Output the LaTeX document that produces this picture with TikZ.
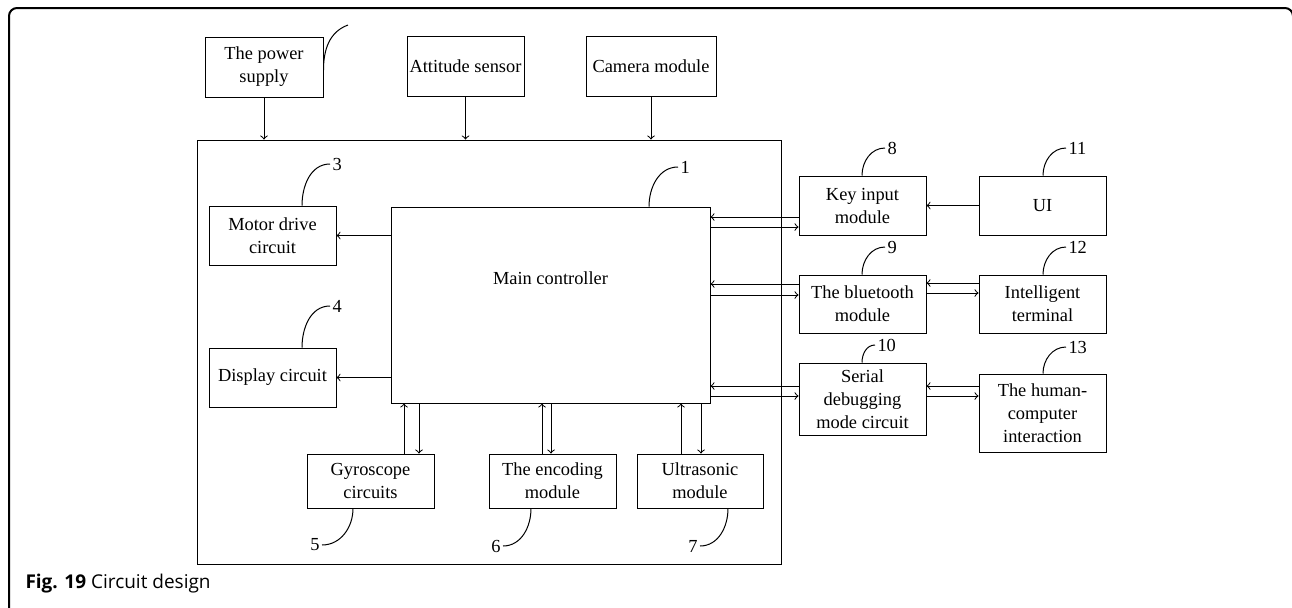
\documentclass[tikz,border=0pt]{standalone}
\usepackage{fontspec}
\setmainfont{Liberation Serif}
\newfontfamily\capfont{Open Sans}

\tikzset{
	blk/.style={draw, align=center, inner sep=0pt, minimum width=63.5pt, minimum height=29.5pt},
	num/.style={anchor=west, inner sep=1pt},
	frm/.style={draw, line width=1pt, rounded corners=4pt}
}

\begin{document}
\begin{tikzpicture}[x=0.5pt,y=-0.5pt,line width=0.5pt,font=\fontsize{9.2}{11.5}\selectfont]
	\useasboundingbox (0,0) rectangle (1292,607);
	\clip (0,0) rectangle (1292,607);
	\draw[frm] (9,640) -- (9,8) -- (1293,8) -- (1293,640);
	% inputs on top
	\node[blk, minimum width=59pt, minimum height=30pt] (pow) at (264,67) {The power\\supply};
	\node[blk, minimum width=58.5pt, minimum height=30pt] (att) at (465.5,66) {Attitude sensor};
	\node[blk, minimum width=65pt, minimum height=30pt] (cam) at (651,66) {Camera module};
	% board
	\node[draw, minimum width=292pt, minimum height=212pt] (frame) at (489,352) {};
	\node[draw, minimum width=159.5pt, minimum height=98pt] (main) at (550.5,305) {};
	\node (maintxt) at (550.5,278) {Main controller};
	\node[blk] (mot) at (272.5,235.5) {Motor drive\\circuit};
	\node[blk] (dis) at (272.5,377.5) {Display circuit};
	\node[blk, minimum height=27pt] (gyr) at (370.5,481) {Gyroscope\\circuits};
	\node[blk, minimum height=27pt] (enc) at (552.5,481) {The encoding\\module};
	\node[blk, minimum width=63pt, minimum height=27pt] (ult) at (700,481) {Ultrasonic\\module};
	% right column
	\node[blk] (key) at (862.5,205.5) {Key input\\module};
	\node[blk] (ui) at (1042.5,205.5) {UI};
	\node[blk, minimum height=29pt] (blu) at (862.5,304) {The bluetooth\\module};
	\node[blk, minimum height=29pt] (int) at (1042.5,304) {Intelligent\\terminal};
	\node[blk, minimum height=36pt] (ser) at (862.5,399) {Serial\\debugging\\mode circuit};
	\node[blk, minimum height=39pt] (hum) at (1042.5,413) {The human-\\computer\\interaction};

	\draw[->] (pow.south) -- (pow.south |- frame.north);
	\draw[->] (att.south) -- (att.south |- frame.north);
	\draw[->] (cam.south) -- (cam.south |- frame.north);
	\draw[->] (main.west |- mot.east) -- (mot.east);
	\draw[->] (main.west |- dis.east) -- (dis.east);
	\draw[->] (gyr.north -| 404,0) -- (main.south -| 404,0);
	\draw[->] (main.south -| 419,0) -- (gyr.north -| 419,0);
	\draw[->] (enc.north -| 542,0) -- (main.south -| 542,0);
	\draw[->] (main.south -| 551,0) -- (enc.north -| 551,0);
	\draw[->] (ult.north -| 681,0) -- (main.south -| 681,0);
	\draw[->] (main.south -| 701,0) -- (ult.north -| 701,0);
	\draw[->] (key.west |- 0,217) -- (main.east |- 0,217);
	\draw[->] (main.east |- 0,227) -- (key.west |- 0,227);
	\draw[->] (ui.west) -- (key.east);
	\draw[->] (blu.west |- 0,284) -- (main.east |- 0,284);
	\draw[->] (main.east |- 0,295) -- (blu.west |- 0,295);
	\draw[->] (int.west |- 0,283) -- (blu.east |- 0,283);
	\draw[->] (blu.east |- 0,293) -- (int.west |- 0,293);
	\draw[->] (ser.west |- 0,386) -- (main.east |- 0,386);
	\draw[->] (main.east |- 0,396) -- (ser.west |- 0,396);
	\draw[->] (hum.west |- 0,386) -- (ser.east |- 0,386);
	\draw[->] (ser.east |- 0,396) -- (hum.west |- 0,396);

	% reference numbers
	\coordinate (pwend) at (348,25);
	\draw (pow.east |- 0,70) to[out=90,in=200] (pwend);
	\node[num] (n1) at (678,167) {1};
	\draw (main.north -| 649,0) to[out=90,in=180] (n1.west);
	\node[num] (n3) at (330,164) {3};
	\draw (mot.north -| 302,0) to[out=90,in=180] (n3.west);
	\node[num] (n4) at (330,306) {4};
	\draw (dis.north -| 302,0) to[out=90,in=180] (n4.west);
	\node[num, anchor=east] (n5) at (322,545) {5};
	\draw (gyr.south -| 353,0) to[out=-90,in=0] (n5.east);
	\node[num, anchor=east] (n6) at (503,546) {6};
	\draw (enc.south -| 531,0) to[out=-90,in=0] (n6.east);
	\node[num, anchor=east] (n7) at (700,546) {7};
	\draw (ult.south -| 728,0) to[out=-90,in=0] (n7.east);
	\node[num] (n8) at (885,148) {8};
	\draw (key.north -| 862,0) to[out=90,in=180] (n8.west);
	\node[num] (n11) at (1066,148) {11};
	\draw (ui.north -| 1043,0) to[out=90,in=180] (n11.west);
	\node[num] (n9) at (885,247) {9};
	\draw (blu.north -| 862,0) to[out=90,in=180] (n9.west);
	\node[num] (n12) at (1066,247) {12};
	\draw (int.north -| 1043,0) to[out=90,in=180] (n12.west);
	\node[num] (n10) at (875,345) {10};
	\draw (ser.north -| 862,0) to[out=90,in=180] (n10.west);
	\node[num] (n13) at (1066,347) {13};
	\draw (hum.north -| 1043,0) to[out=90,in=180] (n13.west);

	\node[anchor=base west, inner sep=0pt] (cap) at (25,588) {\capfont\fontsize{9.5}{11}\selectfont\textbf{Fig. 19} Circuit design};
\end{tikzpicture}
\end{document}
